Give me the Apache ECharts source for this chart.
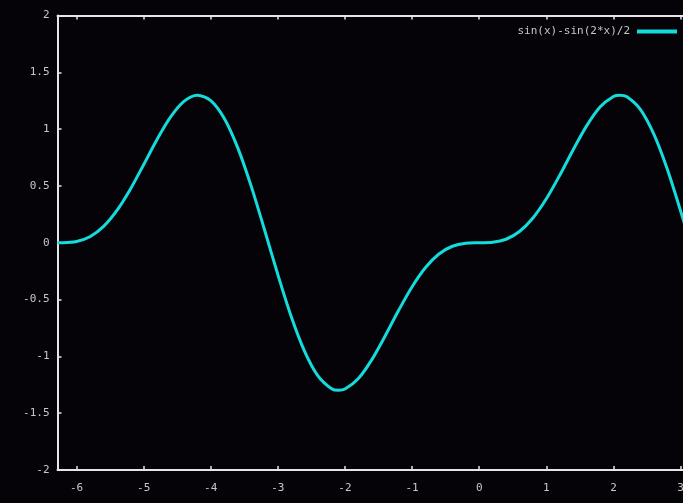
<!DOCTYPE html>
<html>
<head>
<meta charset="utf-8">
<script src="https://cdn.jsdelivr.net/npm/echarts@6/dist/echarts.min.js"></script>
<style>
html,body{margin:0;padding:0;background:#050308;}
#c{width:683px;height:503px;}
</style>
</head>
<body>
<div id="c"></div>
<script>
var seriesName = 'sin(x)-sin(2*x)/2';
var xValues = [-6.2832,-6.2,-6.0,-5.8,-5.6,-5.4,-5.2,-5.0,-4.8,-4.6,-4.4,-4.2,-4.0,-3.8,-3.6,-3.4,-3.2,-3.0,-2.8,-2.6,-2.4,-2.2,-2.0944,-2.0,-1.8,-1.6,-1.4,-1.2,-1.0,-0.8,-0.6,-0.4,-0.2,0,0.2,0.4,0.6,0.8,1.0,1.2,1.4,1.6,1.8,2.0,2.0944,2.2,2.4,2.6,2.8,3.0,3.1,3.2,3.4];
var yValues = [0,0.0003,0.0111,0.0532,0.1417,0.2823,0.4695,0.6869,0.9090,1.1051,1.2441,1.2989,1.2515,1.0958,0.8394,0.5026,0.1166,-0.2808,-0.6506,-0.9572,-1.1735,-1.2843,-1.2990,-1.2877,-1.1951,-1.0288,-0.8180,-0.5943,-0.3868,-0.2176,-0.0986,-0.0307,-0.0040,0,0.0040,0.0307,0.0986,0.2176,0.3868,0.5943,0.8180,1.0288,1.1951,1.2877,1.2990,1.2843,1.1735,0.9572,0.6506,0.2808,0.0831,-0.1166,-0.5026];
var xTicks = [-6,-5,-4,-3,-2,-1,0,1,2,3];
var yTicks = [-2,-1.5,-1,-0.5,0,0.5,1,1.5,2];

var data = xValues.map(function(x,i){return [x,yValues[i]];});
var axisColor = '#e6e6e6';
var labelColor = '#c8c8c8';
var labelFont = 'DejaVu Sans Mono';
var chart = echarts.init(document.getElementById('c'), null, {renderer:'canvas'});
chart.setOption({
  backgroundColor:'#050308',
  animation:false,
  grid:{left:57.5, top:15.5, width:636.5, height:454.5, containLabel:false, outerBoundsMode:'none'},
  legend:{
    show:true, right:1, top:21, align:'right', itemWidth:40, itemHeight:4, itemGap:7,
    icon:'rect',
    textStyle:{color:labelColor, fontSize:11, fontFamily:labelFont, padding:[0,2,0,0]},
    data:[{name:seriesName, icon:'rect'}]
  },
  xAxis:[{
    type:'value', min:-6.2832, max:3.2, position:'bottom',
    axisLine:{show:true, onZero:false, lineStyle:{color:axisColor, width:2}},
    axisTick:{show:true, inside:true, length:4, customValues:xTicks, lineStyle:{color:axisColor, width:1.5}},
    axisLabel:{show:true, customValues:xTicks, margin:13, formatter:function(v){return String(v);}, color:labelColor, fontSize:11, fontFamily:labelFont},
    splitLine:{show:false}
  },{
    type:'value', min:-6.2832, max:3.2, position:'top',
    axisLine:{show:true, onZero:false, lineStyle:{color:axisColor, width:2}},
    axisTick:{show:true, inside:true, length:4, customValues:xTicks, lineStyle:{color:axisColor, width:1.5}},
    axisLabel:{show:false},
    splitLine:{show:false}
  }],
  yAxis:[{
    type:'value', min:-2, max:2, position:'left',
    axisLine:{show:true, onZero:false, lineStyle:{color:axisColor, width:2}},
    axisTick:{show:true, inside:true, length:4, customValues:yTicks, lineStyle:{color:axisColor, width:1.5}},
    axisLabel:{show:true, customValues:yTicks, margin:8, formatter:function(v){return String(v);}, color:labelColor, fontSize:11, fontFamily:labelFont},
    splitLine:{show:false}
  },{
    type:'value', min:-2, max:2, position:'right',
    axisLine:{show:true, onZero:false, lineStyle:{color:axisColor, width:2}},
    axisTick:{show:true, inside:true, length:4, customValues:yTicks, lineStyle:{color:axisColor, width:1.5}},
    axisLabel:{show:false},
    splitLine:{show:false}
  }],
  series:[{
    name:seriesName, type:'line', data:data, smooth:0.3, showSymbol:false, symbol:'none',
    xAxisIndex:0, yAxisIndex:0, clip:true,
    itemStyle:{color:'#14dcdc'},
    lineStyle:{color:'#14dcdc', width:3}
  }]
});
</script>
</body>
</html>
